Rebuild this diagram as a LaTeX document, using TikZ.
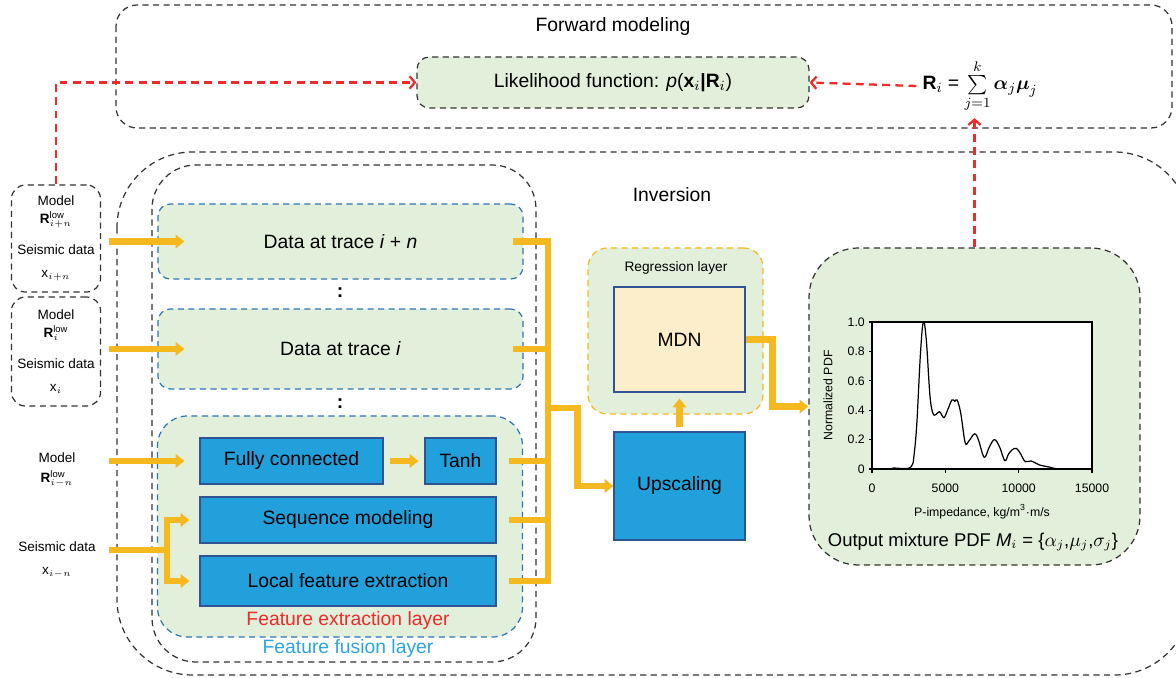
\documentclass[tikz,border=0pt]{standalone}
\usepackage{amsmath}
\usepackage{fontspec}
\setmainfont{Liberation Sans}
\usetikzlibrary{arrows.meta, positioning, calc}
\definecolor{leafgreen}{HTML}{E2EFDA}
\definecolor{netblue}{HTML}{22A0DB}
\definecolor{edgeblue}{HTML}{2F5496}
\definecolor{dashblue}{HTML}{2E75B6}
\definecolor{gold}{HTML}{F4B91E}
\definecolor{alertred}{HTML}{EE2A2A}
\definecolor{skyblue}{HTML}{2AA5E0}
\definecolor{cream}{HTML}{FCEECB}
\newcommand{\pxu}{0.02cm}

\begin{document}
\begin{tikzpicture}[x=0.02cm, y=-0.02cm,
  font=\fontsize{11}{13}\selectfont,
  dbox/.style={draw=black!80, dash pattern=on 3.5pt off 2.5pt, line width=0.7pt},
  greenbox/.style={fill=leafgreen, rounded corners=7pt},
  tracebox/.style={greenbox, draw=dashblue, dash pattern=on 3.5pt off 2.5pt, line width=0.7pt, minimum width=365*\pxu, align=center},
  layerbox/.style={draw=edgeblue, fill=netblue, line width=0.6pt, inner sep=0pt},
  inbox/.style={dbox, rounded corners=8pt, minimum width=88*\pxu, align=center, font=\fontsize{7.7}{9}\selectfont},
  intext/.style={align=center, font=\fontsize{7.7}{9}\selectfont},
  oline/.style={draw=gold, line width=3.6pt},
  oarr/.style={oline, -{Triangle[length=5pt, width=7.6pt]}},
  rarr/.style={draw=alertred, line width=1.3pt, dash pattern=on 4.5pt off 3pt, -{Straight Barb[length=3pt, width=7pt]}},
  ticklbl/.style={font=\fontsize{7}{8}\selectfont, inner sep=1pt}
]
\useasboundingbox (0,0) rectangle (1176,678);
\clip (0,0) rectangle (1176,678);

% outer frames
\draw[dbox, rounded corners=12pt] (116,5) rectangle (1172,128);
\draw[dbox, rounded corners=43pt] (117,152) rectangle (1190,675);
\draw[dbox, rounded corners=25pt] (152,165) rectangle (536,662);
\node (fwdlbl) at (613,27) {Forward modeling};
\node (invlbl) at (672,195) {Inversion};

% forward modeling
\node[dbox, greenbox, minimum width=392*\pxu, minimum height=51*\pxu] (lik) at (613,82.5)
  {Likelihood function: \textit{p}(\textbf{x}$_i$\textbf{|}\textbf{R}$_i$)};
\node (formula) at (980,86) {\textbf{R}$_i$ = $\sum\limits_{j=1}^{k}\boldsymbol{\alpha}_j\boldsymbol{\mu}_j$};

% inputs
\node[inbox, minimum height=107*\pxu] (m1) at (56,238.5)
  {Model\\[1pt] $\textbf{R}^{\text{low}}_{i+n}$\\[9pt] Seismic data\\[4pt] x$_{i+n}$};
\node[inbox, minimum height=109*\pxu] (m2) at (56,351.5)
  {Model\\[1pt] $\textbf{R}^{\text{low}}_{i}$\\[9pt] Seismic data\\[4pt] x$_{i}$};
\node[intext] (m3) at (57,470) {Model\\[2pt] $\textbf{R}^{\text{low}}_{i-n}$};
\node[intext] (s3) at (57,560) {Seismic data\\[4pt] x$_{i-n}$};

% feature fusion layer
\node[tracebox, minimum height=75*\pxu] (tn) at (340.5,241.5) {Data at trace \textit{i} + \textit{n}};
\node[tracebox, minimum height=80*\pxu] (ti) at (340.5,349) {Data at trace \textit{i}};
\node (dots1) at (340,293) {\textbf{:}};
\node (dots2) at (340,404) {\textbf{:}};
\node[tracebox, minimum height=221*\pxu, rounded corners=17pt] (ext) at (340,526.5) {};
\node[layerbox, minimum width=183*\pxu, minimum height=46*\pxu] (fc) at (291.5,461) {Fully connected};
\node[layerbox, minimum width=71*\pxu, minimum height=46*\pxu] (tanh) at (460.5,461) {Tanh};
\node[layerbox, minimum width=296*\pxu, minimum height=46*\pxu] (seq) at (348,520) {Sequence modeling};
\node[layerbox, minimum width=296*\pxu, minimum height=50*\pxu] (loc) at (348,581) {Local feature extraction};
\node[text=alertred] (extlbl) at (348,621) {Feature extraction layer};
\node[text=skyblue] (fuslbl) at (348,649) {Feature fusion layer};

% regression and output
\node[greenbox, draw=gold, dash pattern=on 3.5pt off 2.5pt, line width=0.7pt, rounded corners=11pt,
  minimum width=175*\pxu, minimum height=166*\pxu] (reg) at (675.5,331) {};
\node[font=\fontsize{7.8}{9}\selectfont] (reglbl) at (676,268) {Regression layer};
\node[draw=edgeblue, fill=cream, line width=0.6pt, minimum width=131*\pxu, minimum height=105*\pxu] (mdn) at (679.5,339.5) {MDN};
\node[layerbox, minimum width=131*\pxu, minimum height=108*\pxu] (up) at (679.5,486) {Upscaling};
\node[dbox, fill=leafgreen, rounded corners=28pt, minimum width=331*\pxu, minimum height=317*\pxu] (pdf) at (974.5,406.5) {};
\node[font=\fontsize{10.5}{12}\selectfont] (outlbl) at (973,542) {Output mixture PDF \textit{M}$_i$ = \{$\alpha_j$,$\mu_j$,$\sigma_j$\}};

% PDF plot
\begin{scope}[shift={(872,469)}, xscale=14.6667, yscale=-147]
  \draw[fill=white, line width=0.6pt] (0,0) rectangle (15,1);
  \foreach \v/\t in {0/0,5/5000,10/10000,15/15000} {
    \draw[line width=0.6pt] (\v,0) -- (\v,-0.025);
    \node[ticklbl] (xt\v) at (\v,-0.13) {\t};
  }
  \foreach \v/\t in {0/0,0.2/0.2,0.4/0.4,0.6/0.6,0.8/0.8,1/1.0} {
    \draw[line width=0.6pt] (0,\v) -- (-0.2,\v);
    \node[ticklbl, anchor=east] (yt\t) at (-0.35,\v) {\t};
  }
  \node[ticklbl] (xlbl) at (7.5,-0.29) {P-impedance, kg/m\textsuperscript{3}·m/s};
  \node[ticklbl, rotate=90] (ylbl) at (-3,0.5) {Normalized PDF};
  \draw[line width=0.7pt] plot[smooth, tension=0.6] coordinates {
    (1.4,0.008) (1.9,0.004) (2.5,0.005) (2.75,0.03) (2.85,0.08) (3.05,0.3) (3.3,0.78)
    (3.5,1.0) (3.7,0.88) (3.95,0.5) (4.15,0.38) (4.35,0.37) (4.6,0.39) (4.9,0.35)
    (5.15,0.4) (5.45,0.47) (5.65,0.46) (5.8,0.47) (6.05,0.38) (6.35,0.18) (6.6,0.19)
    (7.0,0.24) (7.25,0.2) (7.65,0.08) (8.0,0.15) (8.35,0.2) (8.7,0.15) (9.05,0.057)
    (9.3,0.1) (9.55,0.13) (9.85,0.14) (10.15,0.1) (10.45,0.05) (10.85,0.055)
    (11.4,0.028) (12.0,0.015) (12.6,0.0)};
\end{scope}

% orange data flow
\draw[oarr] ($(tn.west -| m1.east)+(8,0)$) -- ($(tn.west)+(27,0)$);
\draw[oarr] ($(ti.west -| m2.east)+(8,0)$) -- ($(ti.west)+(27,0)$);
\draw[oarr] ($(fc.west -| m1.east)+(8,0)$) -- ($(fc.west)+(-15,0)$);
\coordinate (split) at (167,550);
\draw[oline] ($(split -| m1.east)+(8,0)$) -- (split);
\draw[oarr] (split) |- ($(seq.west)+(-10,0)$);
\draw[oarr] (split) |- ($(loc.west)+(-10,0)$);
\draw[oarr] ($(fc.east)+(6,0)$) -- ($(tanh.west)+(-6,0)$);

\coordinate (bus) at (548,408);
\draw[oline] ($(tn.east)+(-11,0)$) -- (tn.east -| bus);
\draw[oline] ($(ti.east)+(-11,0)$) -- (ti.east -| bus);
\draw[oline] ($(tanh.east)+(12,0)$) -- (tanh.east -| bus);
\draw[oline] ($(seq.east)+(12,0)$) -- (seq.east -| bus);
\draw[oline] ($(loc.east)+(12,0)$) -- (loc.east -| bus);
\draw[oline] ([yshift=1.8pt]tn.east -| bus) -- ([yshift=-1.8pt]loc.east -| bus);
\draw[oarr] (bus) -| ($(up.west)+(-36,0)$) -- (up.west);
\draw[oarr] ($(up.north)+(0,-4)$) -- ($(mdn.south)+(0,6)$);
\draw[oarr] (mdn.east) -| ($(pdf.west)+(-36,0)$) -- (pdf.west);

% red feedback
\draw[rarr] (m1.north) |- (lik.west);
\draw[rarr] (formula.west) -- (lik.east);
\draw[rarr] (pdf.north) -- (pdf.north |- formula.south);

\end{tikzpicture}
\end{document}
